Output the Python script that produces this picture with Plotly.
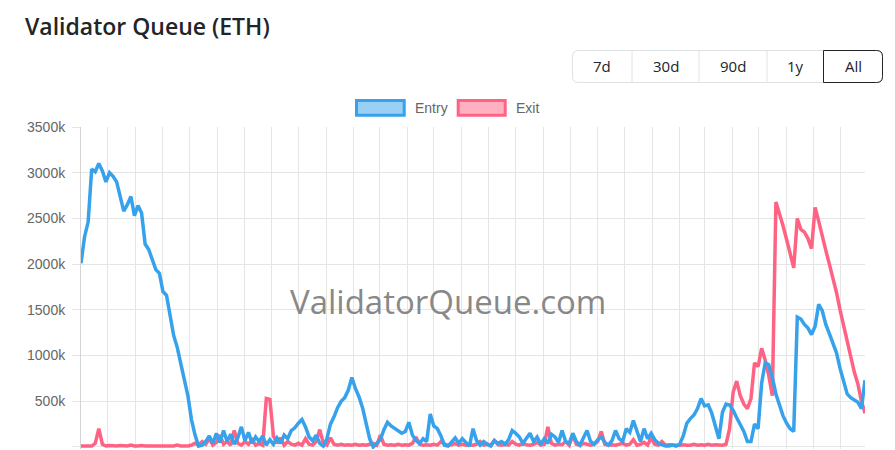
import plotly.graph_objects as go
import pandas as pd

# ---------------- data (values in thousands of ETH) ----------------
START_DATE = "2023-04-01"
STEP = "4D"

entry_k = [
    2010, 2300, 2460, 3040, 3010, 3100, 3020, 2900, 3000, 2960,
    2900, 2720, 2580, 2650, 2740, 2530, 2640, 2560, 2220, 2160,
    2040, 1940, 1900, 1700, 1660, 1440, 1220, 1090, 900, 740,
    560, 300, 130, 10, 20, 60, 120, 40, 150, 50,
    180, 60, 140, 30, 100, 220, 70, 160, 40, 110,
    60, 120, 20, 80, 30, 100, 40, 130, 90, 180,
    210, 260, 300, 220, 110, 70, 130, 40, 10, 90,
    250, 330, 430, 500, 540, 620, 760, 640, 550, 430,
    250, 90, 0, 40, 80, 190, 270, 230, 200, 180,
    150, 170, 270, 130, 70, 40, 90, 60, 360, 230,
    200, 120, 20, 10, 60, 100, 40, 90, 50, 10,
    200, 70, 20, 60, 30, 10, 70, 40, 60, 30,
    80, 180, 150, 110, 40, 90, 150, 60, 110, 30,
    90, 40, 140, 110, 50, 180, 60, 40, 150, 60,
    20, 100, 180, 60, 30, 80, 110, 50, 20, 70,
    180, 90, 60, 200, 160, 290, 180, 60, 200, 90,
    150, 80, 40, 20, 10, 10, 20, 10, 30, 120,
    260, 310, 350, 420, 530, 450, 460, 370, 230, 90,
    380, 470, 460, 400, 320, 250, 170, 60, 60, 250,
    200, 700, 920, 900, 760, 580, 450, 340, 260, 200,
    170, 1420, 1400, 1340, 1300, 1230, 1320, 1560, 1490, 1340,
    1240, 1140, 1030, 860, 700, 580, 540, 520, 490, 420,
    730,
]

exit_k = [
    10, 10, 15, 10, 40, 200, 30, 10, 15, 10,
    10, 15, 10, 10, 20, 10, 10, 15, 10, 10,
    10, 15, 10, 10, 10, 15, 10, 20, 10, 10,
    10, 20, 40, 20, 60, 30, 90, 20, 50, 130,
    30, 60, 20, 180, 40, 20, 60, 30, 80, 20,
    40, 20, 530, 520, 120, 40, 100, 20, 60, 30,
    20, 40, 20, 90, 30, 20, 60, 190, 40, 20,
    100, 30, 20, 30, 20, 25, 20, 30, 20, 25,
    20, 30, 40, 20, 130, 30, 20, 25, 20, 30,
    20, 25, 20, 40, 110, 30, 20, 25, 20, 30,
    20, 60, 30, 20, 25, 40, 20, 30, 20, 25,
    20, 30, 60, 20, 30, 20, 70, 25, 20, 30,
    20, 60, 30, 20, 40, 25, 20, 30, 50, 20,
    30, 220, 40, 20, 30, 25, 60, 20, 130, 30,
    20, 40, 25, 20, 30, 60, 170, 30, 20, 25,
    20, 30, 40, 20, 30, 80, 20, 30, 50, 20,
    100, 30, 20, 60, 20, 25, 20, 20, 20, 25,
    20, 20, 30, 20, 25, 20, 30, 20, 25, 20,
    20, 30, 200, 600, 720, 560, 470, 420, 530, 920,
    880, 1080, 950, 780, 560, 2680, 2560, 2420, 2270, 2120,
    1960, 2500, 2380, 2350, 2280, 2170, 2620, 2470, 2290, 2150,
    2000, 1850, 1690, 1500, 1320, 1150, 960, 820, 690, 500,
    370,
]

y_tick_vals = [0, 500, 1000, 1500, 2000, 2500, 3000, 3500]
y_tick_text = ["0", "500k", "1000k", "1500k", "2000k", "2500k", "3000k", "3500k"]
range_buttons = ["7d", "30d", "90d", "1y", "All"]
series_names = ["Entry", "Exit"]

dates = pd.date_range(START_DATE, periods=len(entry_k), freq=STEP)

# ---------------- layout geometry ----------------
W, H = 895, 450
ML, MR, MT, MB = 81, 30, 127, 1
PW, PH = W - ML - MR, H - MT - MB

def X(px):
    return (px - ML) / PW

def Y(py):
    return (H - MB - py) / PH

def rrect(x0, y0, x1, y1, r, left=True, right=True):
    rl = r if left else 0
    rr = r if right else 0
    p = f"M {X(x0 + rl)},{Y(y0)} L {X(x1 - rr)},{Y(y0)} "
    p += f"Q {X(x1)},{Y(y0)} {X(x1)},{Y(y0 + rr)} " if rr else ""
    p += f"L {X(x1)},{Y(y1 - rr)} "
    p += f"Q {X(x1)},{Y(y1)} {X(x1 - rr)},{Y(y1)} " if rr else ""
    p += f"L {X(x0 + rl)},{Y(y1)} "
    p += f"Q {X(x0)},{Y(y1)} {X(x0)},{Y(y1 - rl)} " if rl else ""
    p += f"L {X(x0)},{Y(y0 + rl)} "
    p += f"Q {X(x0)},{Y(y0)} {X(x0 + rl)},{Y(y0)} " if rl else ""
    return p + "Z"

BLUE = "#36A2EB"
RED = "#FF6384"
GRID = "#e5e5e5"

fig = go.Figure()
fig.add_trace(go.Scatter(x=dates, y=exit_k, mode="lines", name=series_names[1],
                         line=dict(color=RED, width=3.5), hoverinfo="skip"))
fig.add_trace(go.Scatter(x=dates, y=entry_k, mode="lines", name=series_names[0],
                         line=dict(color=BLUE, width=3.5), hoverinfo="skip"))

shapes = []
annotations = []

# range buttons
shapes.append(dict(type="path", xref="paper", yref="paper",
                   path=rrect(572.5, 50.5, 882.5, 82.5, 6),
                   line=dict(color="#dee2e6", width=1), fillcolor="white", layer="above"))
bx = [572.5, 632, 699, 767, 823.5, 882.5]
for xd in bx[1:4]:
    shapes.append(dict(type="line", xref="paper", yref="paper",
                       x0=X(xd), x1=X(xd), y0=Y(50.5), y1=Y(82.5),
                       line=dict(color="#dee2e6", width=1)))
shapes.append(dict(type="path", xref="paper", yref="paper",
                   path=rrect(823.5, 50.5, 882.5, 82.5, 6, left=False, right=True),
                   line=dict(color="#212529", width=1), fillcolor="rgba(0,0,0,0)"))
for i, lab in enumerate(range_buttons):
    cx = (bx[i] + bx[i + 1]) / 2
    annotations.append(dict(text=lab, x=X(cx), y=Y(66.5), xref="paper", yref="paper",
                            xanchor="center", yanchor="middle", showarrow=False,
                            font=dict(family="Open Sans", size=15, color="#212529")))

# legend
legend_items = [(series_names[0], BLUE, "rgba(54,162,235,0.5)", 356.5, 404.2, 413),
                (series_names[1], RED, "rgba(255,99,132,0.5)", 458.2, 505.2, 514)]
for name, col, fill, x0, x1, tx in legend_items:
    shapes.append(dict(type="rect", xref="paper", yref="paper",
                       x0=X(x0), x1=X(x1), y0=Y(100.5), y1=Y(115.3),
                       line=dict(color=col, width=3), fillcolor=fill))
    annotations.append(dict(text=name, x=X(tx), y=Y(108), xref="paper", yref="paper",
                            xanchor="left", yanchor="middle", showarrow=False,
                            font=dict(family="Liberation Sans, Arial", size=14, color="#666666")))

# title
annotations.append(dict(text="Validator Queue (ETH)", x=X(23), y=Y(26), xref="paper", yref="paper",
                        xanchor="left", yanchor="middle", showarrow=False,
                        font=dict(family="Open Sans", size=23, color="#212529", weight=600)))

# watermark
annotations.append(dict(text="ValidatorQueue.com", x=X(448), y=Y(301), xref="paper", yref="paper",
                        xanchor="center", yanchor="middle", showarrow=False,
                        font=dict(family="Open Sans", size=33, color="#888888")))

fig.update_layout(
    width=W, height=H,
    margin=dict(l=ML, r=MR, t=MT, b=MB, pad=0),
    paper_bgcolor="white", plot_bgcolor="white",
    showlegend=False,
    shapes=shapes, annotations=annotations,
    xaxis=dict(type="date", range=[dates[0], dates[-1]], tick0=START_DATE, dtick="M1",
               showgrid=True, gridcolor=GRID, gridwidth=1, showticklabels=False,
               ticks="", zeroline=False, showline=False, fixedrange=True),
    yaxis=dict(range=[-22, 3500], tickmode="array", tickvals=y_tick_vals, ticktext=y_tick_text,
               showgrid=True, gridcolor=GRID, gridwidth=1, zeroline=False,
               ticks="outside", ticklen=8, tickcolor=GRID, ticklabelstandoff=4,
               tickfont=dict(family="Liberation Sans, Arial", size=14, color="#666666"),
               showline=True, linecolor="#d4d4d4", linewidth=1, fixedrange=True),
)

fig.write_html("out.html", config={"displayModeBar": False},
               post_script="document.body.style.margin='0';document.body.style.overflow='hidden';")
